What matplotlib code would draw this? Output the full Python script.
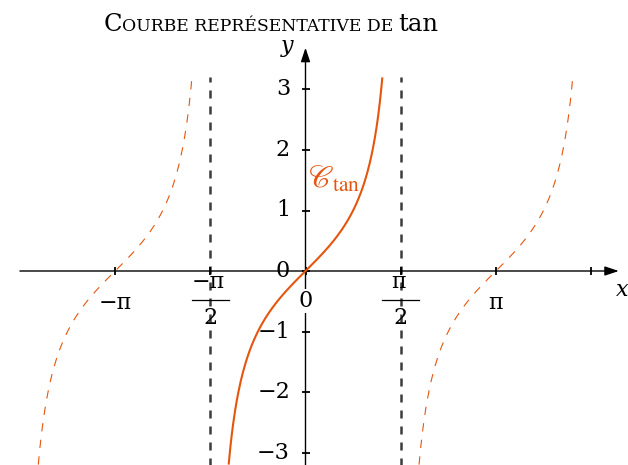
import numpy as np
import matplotlib
matplotlib.use("Agg")
import matplotlib.pyplot as plt
from matplotlib.transforms import IdentityTransform

PI = np.pi

# Branches of tan drawn on the window (centre of each period, line style)
branch_centres = [-PI, 0.0, PI]
branch_styles = ["dashed", "solid", "dashed"]
y_clip = 3.2
asymptotes = [-PI / 2, PI / 2]

# Axis graduations
x_ticks = [-PI, -PI / 2, 0.0, PI / 2, PI, 3 * PI / 2]
x_tick_labels = ["−π", ("−π", "2"), "0", ("π", "2"), "π", ""]
y_ticks = [-3, -2, -1, 0, 1, 2, 3]
y_tick_labels = ["−3", "−2", "−1", "0", "1", "2", "3"]
x_axis_range = (-3 * PI / 2, 5.17)
y_axis_range = (-3.4, 3.69)

ORANGE = "#E6550D"
GREY = "#3C3C3C"
SERIF = "DejaVu Serif"

W, H = 628, 465
fig = plt.figure(figsize=(W / 100, H / 100), dpi=100)
ax = fig.add_axes([0, 0, 1, 1])
ox, oy, sx, sy = 305.5, 271.0, 60.6, 60.5  # origin in pixels, pixels per unit
ax.set_xlim(-ox / sx, (W - ox) / sx)
ax.set_ylim(-(H - oy) / sy, oy / sy)
ax.axis("off")

px = 1.0 / sx  # one pixel in x data units
py = 1.0 / sy  # one pixel in y data units

# vertical asymptotes
for a in asymptotes:
    ax.plot([a, a], [y_axis_range[0], y_clip], color=GREY, lw=1.8,
            dashes=(3.2, 3.2), zorder=2)

# tan branches
half = np.arctan(y_clip)
for c, style in zip(branch_centres, branch_styles):
    t = np.linspace(c - half, c + half, 600)
    if style == "solid":
        ax.plot(t, np.tan(t), color=ORANGE, lw=1.5, zorder=5,
                solid_capstyle="butt")
    else:
        ax.plot(t, np.tan(t), color=ORANGE, lw=0.8, dashes=(7.5, 7.5),
                zorder=5)

# axes with arrow heads
arrow = dict(arrowstyle="-|>,head_length=0.6,head_width=0.2", color="black",
             lw=1.0, shrinkA=0, shrinkB=0, mutation_scale=14)
ax.annotate("", xy=(x_axis_range[1], 0), xytext=(x_axis_range[0], 0),
            arrowprops=arrow, zorder=3)
ax.annotate("", xy=(0, y_axis_range[1]), xytext=(0, y_axis_range[0]),
            arrowprops=arrow, zorder=3)

# tick marks
ax.plot(x_ticks, np.zeros(len(x_ticks)), ls="none", marker="|", ms=6,
        mew=1.3, color="black", zorder=3)
ax.plot(np.zeros(len(y_ticks)), y_ticks, ls="none", marker="_", ms=6,
        mew=1.3, color="black", zorder=3)

tick_font = dict(family=SERIF, size=16)

# x labels
for xv, lab in zip(x_ticks, x_tick_labels):
    if lab == "":
        continue
    if isinstance(lab, tuple):
        num, den = lab
        ax.text(xv - 2 * px, -11 * py, num, ha="center", va="center",
                zorder=4, **tick_font)
        ax.plot([xv - 18.5 * px, xv + 18.5 * px], [-29 * py, -29 * py],
                color="black", lw=0.9, zorder=4)
        ax.text(xv, -47 * py, den, ha="center", va="center", zorder=4,
                **tick_font)
    elif lab == "0":
        ax.text(xv, -30 * py, lab, ha="center", va="center", zorder=4,
                bbox=dict(boxstyle="square,pad=0.05", fc="white", ec="none"),
                **tick_font)
    else:
        ax.text(xv, -32 * py, lab, ha="center", va="center", zorder=4,
                **tick_font)

# y labels
for yv, lab in zip(y_ticks, y_tick_labels):
    ax.text(-15.5 * px, yv, lab, ha="right", va="center", zorder=4,
            **tick_font)

# axis names
ax.text(x_axis_range[1] + 3 * px, -19 * py, "x", ha="center", va="center",
        family=SERIF, style="italic", size=16)
ax.text(-18 * px, y_axis_range[1] + 2 * py, "y", ha="center", va="center",
        family=SERIF, style="italic", size=16)

# curve name
ax.text(3 * px, 1.53, r"$\mathscr{C}_{\mathrm{tan}}$", ha="left",
        va="center", color=ORANGE, size=22, math_fontfamily="stix", zorder=6)

# title in small capitals, built from pieces laid end to end
pieces = [("C", 17.5), ("OURBE REPRÉSENTATIVE DE ", 12.4), ("tan", 17.5)]
renderer = fig.canvas.get_renderer()
baseline = H - 31
texts = []
xpos = 0.0
for s, size in pieces:
    t = fig.text(xpos, baseline, s, transform=IdentityTransform(),
                 family=SERIF, size=size, ha="left", va="baseline")
    xpos = t.get_window_extent(renderer).x1
    texts.append(t)
total = xpos
shift = 271 - total / 2
for t in texts:
    x0, y0 = t.get_position()
    t.set_position((x0 + shift, y0))

fig.savefig("out.png", dpi=100)
